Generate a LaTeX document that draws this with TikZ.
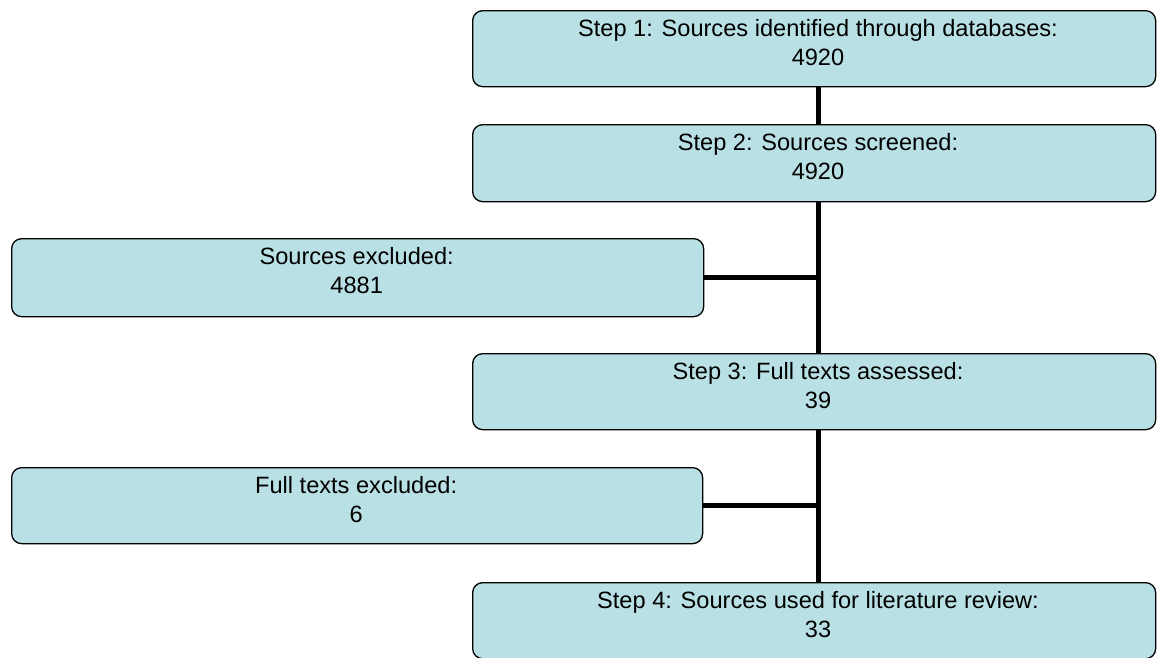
\documentclass[tikz,border=0pt]{standalone}
\usepackage{fontspec}
\setmainfont{Liberation Sans}
\usetikzlibrary{calc}
\definecolor{boxfill}{RGB}{185,224,228}
\tikzset{
  stepbox/.style={draw=black, line width=1.3pt, fill=boxfill, rounded corners=10pt,
    anchor=north west, inner sep=0pt},
  lbl/.style={font=\fontsize{23.6}{29}\selectfont, align=center, anchor=base, inner sep=0pt},
  link/.style={line width=5pt, black},
}
\begin{document}
\begin{tikzpicture}[x=1pt, y=-1pt]
  \useasboundingbox (0,0) rectangle (1157,657);
  \coordinate (sp) at (818,0);

  % main column of steps
  \node[stepbox, minimum width=683pt, minimum height=76pt] (s1) at (472,10) {};
  \node[stepbox, minimum width=683pt, minimum height=77pt] (s2) at (472,124) {};
  \node[stepbox, minimum width=683pt, minimum height=76pt] (s3) at (472,353) {};
  \node[stepbox, minimum width=683pt, minimum height=76pt] (s4) at (472,582) {};

  % excluded sources on the left
  \node[stepbox, minimum width=692pt, minimum height=78pt] (e1) at (11,238) {};
  \node[stepbox, minimum width=691pt, minimum height=76pt] (e2) at (11,467) {};

  % connectors
  \draw[link] (s1.south -| sp) -- (s2.north -| sp);
  \draw[link] (s2.south -| sp) -- (s3.north -| sp);
  \draw[link] (s3.south -| sp) -- (s4.north -| sp);
  \draw[link] (e1.east) -- (e1.east -| sp);
  \draw[link] (e2.east) -- (e2.east -| sp);

  % labels (anchored on the baseline of the last line)
  \node[lbl] (t1) at ($(s1.north -| sp)+(0,55.5)$) {Step 1: Sources identified through databases:\\4920};
  \node[lbl] (t2) at ($(s2.north -| sp)+(0,55.5)$) {Step 2: Sources screened:\\4920};
  \node[lbl] (t3) at ($(s3.north -| sp)+(0,55.5)$) {Step 3: Full texts assessed:\\39};
  \node[lbl] (t4) at ($(s4.north -| sp)+(0,55.5)$) {Step 4: Sources used for literature review:\\33};
  \node[lbl] (u1) at ($(e1.north)+(-1,55.5)$) {Sources excluded:\\4881};
  \node[lbl] (u2) at ($(e2.north)+(-1,55.5)$) {Full texts excluded:\\6};
\end{tikzpicture}
\end{document}
